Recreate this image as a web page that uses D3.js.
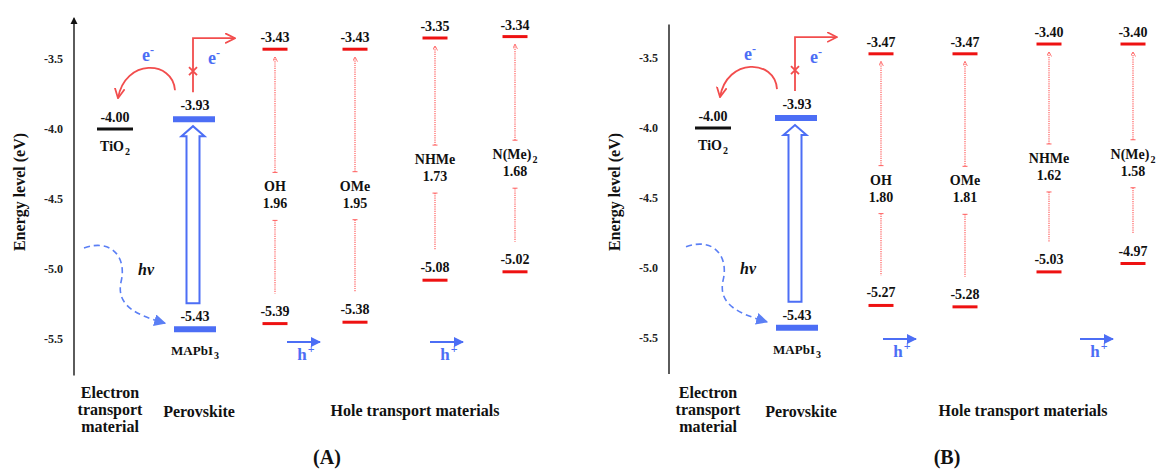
<!DOCTYPE html>
<html>
<head>
<meta charset="UTF-8" />
<style>
  body { margin: 0; background: #fff; }
  svg text { font-family: "Liberation Serif", "Times New Roman", serif; font-weight: bold; fill: #111; }
</style>
</head>
<body>
<svg width="1159" height="469"></svg>
<script src="https://d3js.org/d3.v7.min.js"></script>
<script>
    // energy levels (eV)
    const columns = ["ETM", "Perovskite", "OH", "OMe", "NHMe", "N(Me)2"];
    const htmNames = ["OH", "OMe", "NHMe", "N(Me)2"];
    const tio2Level = -4.00;
    const perovLumo = -3.93;
    const perovHomo = -5.43;
    const yTicks = [-3.5, -4.0, -4.5, -5.0, -5.5];

    const lumoA = [-3.43, -3.43, -3.35, -3.34];
    const homoA = [-5.39, -5.38, -5.08, -5.02];
    const gapA = [1.96, 1.95, 1.73, 1.68];

    const lumoB = [-3.47, -3.47, -3.40, -3.40];
    const homoB = [-5.27, -5.28, -5.03, -4.97];
    const gapB = [1.80, 1.81, 1.62, 1.58];

    const blue = "#4c6ef5",
        red = "#ee1111",
        arrowRed = "#f24d4d",
        dotRed = "#ff5e5e"

    const svg = d3.select("svg")
    const defs = svg.append("defs")

    function addMarker(id, d, color, w, h, filled) {
        defs.append("marker")
            .attr("id", id)
            .attr("viewBox", "0 -5 10 10")
            .attr("refX", 9)
            .attr("refY", 0)
            .attr("markerUnits", "userSpaceOnUse")
            .attr("markerWidth", w)
            .attr("markerHeight", h)
            .attr("orient", "auto")
            .append("path")
            .attr("d", d)
            .attr("fill", filled ? color : "none")
            .attr("stroke", color)
            .attr("stroke-width", filled ? 0 : 1.6)
    }
    addMarker("vRed", "M0,-4.5L9,0L0,4.5", arrowRed, 11, 11, false)
    addMarker("triBlue", "M0,-5L10,0L0,5Z", blue, 10, 10, true)
    addMarker("triDash", "M0,-5L10,0L0,5Z", "#5b7ff5", 12, 12, true)
    addMarker("tinyRed", "M0,-5L10,0L0,5", dotRed, 5, 5, false)

    const panels = [
        { tag: "(A)", lumo: lumoA, homo: homoA, gap: gapA, axisX: 74, xRange: [115, 515], yRange: [59, 339],
          arrowTop: true, hArrows: [["OH", 12], ["NHMe", -5]], hY: 342, tagX: 327, holeX: 415 },
        { tag: "(B)", lumo: lumoB, homo: homoB, gap: gapB, axisX: 669, xRange: [713, 1133], yRange: [58, 337.6],
          arrowTop: false, hArrows: [["OH", 2], ["N(Me)2", -53]], hY: 339, tagX: 947, holeX: 1023 }
    ]

    function withSub(sel, main, sub, size) {
        sel.append("tspan").text(main)
        if (sub) sel.append("tspan").attr("dy", 4).attr("dx", 1).attr("font-size", size).text(sub)
    }

    panels.forEach(p => {
        const g = svg.append("g")
        const x = d3.scalePoint().domain(columns).range(p.xRange)
        const y = d3.scaleLinear().domain([-3.5, -5.5]).range(p.yRange)
        const fmt = d => d.toFixed(2)

        // axis line
        g.append("line")
            .attr("x1", p.axisX).attr("x2", p.axisX)
            .attr("y1", p.arrowTop ? y(-3.21) : y(-3.26)).attr("y2", y(-5.76))
            .attr("stroke", "#333").attr("stroke-width", 1.6)
        if (p.arrowTop) {
            const t = y(-3.2)
            g.append("path")
                .attr("d", `M${p.axisX - 3.5},${t + 7}L${p.axisX},${t}L${p.axisX + 3.5},${t + 7}Z`)
                .attr("fill", "#111")
        }

        const axis = g.append("g")
            .attr("transform", `translate(${p.axisX},0)`)
            .call(d3.axisLeft(y).tickValues(yTicks).tickSize(0).tickPadding(11).tickFormat(d => d.toFixed(1)))
        axis.select(".domain").remove()
        axis.selectAll("text")
            .attr("font-size", 12)
            .style("fill", "#222")

        g.append("text")
            .attr("transform", `translate(${p.axisX - 49},192) rotate(-90)`)
            .attr("text-anchor", "middle")
            .attr("font-size", 16)
            .text("Energy level (eV)")

        const ex = x("ETM"), px = x("Perovskite")

        // TiO2
        g.append("line")
            .attr("x1", ex - 18).attr("x2", ex + 18)
            .attr("y1", y(tio2Level)).attr("y2", y(tio2Level))
            .attr("stroke", "#111").attr("stroke-width", 3)
        g.append("text").attr("x", ex).attr("y", y(tio2Level) - 7)
            .attr("text-anchor", "middle").attr("font-size", 14).text(fmt(tio2Level))
        withSub(g.append("text").attr("x", ex).attr("y", y(tio2Level) + 22)
            .attr("text-anchor", "middle").attr("font-size", 14), "TiO", "2", 10)

        // perovskite bands
        g.append("line")
            .attr("x1", px - 22).attr("x2", px + 20)
            .attr("y1", y(perovLumo)).attr("y2", y(perovLumo))
            .attr("stroke", blue).attr("stroke-width", 6)
        g.append("line")
            .attr("x1", px - 21).attr("x2", px + 21)
            .attr("y1", y(perovHomo)).attr("y2", y(perovHomo))
            .attr("stroke", blue).attr("stroke-width", 6)
        g.append("text").attr("x", px).attr("y", y(perovLumo) - 9)
            .attr("text-anchor", "middle").attr("font-size", 14).text(fmt(perovLumo))
        g.append("text").attr("x", px).attr("y", y(perovHomo) - 8)
            .attr("text-anchor", "middle").attr("font-size", 14).text(fmt(perovHomo))
        withSub(g.append("text").attr("x", px).attr("y", y(perovHomo) + 26)
            .attr("text-anchor", "middle").attr("font-size", 13), "MAPbI", "3", 10)

        // hollow excitation arrow
        const ax = px - 2, tip = y(perovLumo) + 7, wing = tip + 10, bot = y(perovHomo) - 26
        g.append("path")
            .attr("d", `M${ax - 6.5},${bot}L${ax - 6.5},${wing}L${ax - 11.5},${wing}L${ax},${tip}` +
                `L${ax + 11.5},${wing}L${ax + 6.5},${wing}L${ax + 6.5},${bot}Z`)
            .attr("fill", "#fff").attr("stroke", blue).attr("stroke-width", 2)

        // hv dashed arrow
        const sx = px - 111, sy = y(-4.85), mx = px - 74, my = sy + 34
        const tx = px - 30, ty = y(perovHomo) - 6
        g.append("path")
            .attr("d", `M${sx},${sy}C${sx + 28},${sy - 10} ${mx + 6},${sy + 10} ${mx},${my}` +
                `C${mx - 5},${my + 24} ${tx - 28},${ty - 8} ${tx},${ty}`)
            .attr("fill", "none").attr("stroke", "#5b7ff5").attr("stroke-width", 1.6)
            .attr("stroke-dasharray", "6,4").attr("marker-end", "url(#triDash)")
        g.append("text").attr("x", px - 49).attr("y", y(-5.0) + 6)
            .attr("text-anchor", "middle").attr("font-size", 16).attr("font-style", "italic").text("hv")

        // electron injection arc into TiO2
        const a0 = y(perovLumo) - 29
        g.append("path")
            .attr("d", `M${px - 20},${a0}C${px - 22},${a0 - 30} ${px - 70},${a0 - 32} ${px - 77},${a0 + 8}`)
            .attr("fill", "none").attr("stroke", arrowRed).attr("stroke-width", 1.8)
            .attr("marker-end", "url(#vRed)")
        const eL = g.append("text").attr("x", px - 47).attr("y", a0 - 29)
            .attr("text-anchor", "middle").attr("font-size", 18)
        eL.append("tspan").style("fill", blue).text("e")
        eL.append("tspan").style("fill", blue).attr("dy", -7).attr("font-size", 12).text("-")

        // blocked transfer to HTM LUMO
        const rx = px - 2, rb = y(perovLumo) - 27, rt = y(perovLumo) - 81, cx = y(perovLumo) - 48
        g.append("path")
            .attr("d", `M${rx},${rb}L${rx},${rt}L${px + 40},${rt}`)
            .attr("fill", "none").attr("stroke", arrowRed).attr("stroke-width", 1.8)
            .attr("marker-end", "url(#vRed)")
        g.append("path")
            .attr("d", `M${rx - 4},${cx - 4}L${rx + 4},${cx + 4}M${rx + 4},${cx - 4}L${rx - 4},${cx + 4}`)
            .attr("stroke", arrowRed).attr("stroke-width", 1.8)
        const eR = g.append("text").attr("x", px + 19).attr("y", a0 - 26)
            .attr("text-anchor", "middle").attr("font-size", 18)
        eR.append("tspan").style("fill", blue).text("e")
        eR.append("tspan").style("fill", blue).attr("dy", -7).attr("font-size", 12).text("-")

        // hole transport materials
        htmNames.forEach((name, i) => {
            const cxh = x(columns[i + 2])
            const yl = y(p.lumo[i]), yh = y(p.homo[i]), mid = (yl + yh) / 2
            ;[yl, yh].forEach(v => {
                g.append("line")
                    .attr("x1", cxh - 12.5).attr("x2", cxh + 12.5)
                    .attr("y1", v).attr("y2", v)
                    .attr("stroke", red).attr("stroke-width", 3)
            })
            g.append("text").attr("x", cxh).attr("y", yl - 7)
                .attr("text-anchor", "middle").attr("font-size", 14).text(fmt(p.lumo[i]))
            g.append("text").attr("x", cxh).attr("y", yh - 8)
                .attr("text-anchor", "middle").attr("font-size", 14).text(fmt(p.homo[i]))

            const m = name.match(/^(.*?)(\d)$/)
            withSub(g.append("text").attr("x", cxh).attr("y", mid + 5)
                .attr("text-anchor", "middle").attr("font-size", 14), m ? m[1] : name, m ? m[2] : null, 10)
            g.append("text").attr("x", cxh).attr("y", mid + 22)
                .attr("text-anchor", "middle").attr("font-size", 14).text(p.gap[i].toFixed(2))

            // dotted gap arrow, split around the labels
            g.append("line")
                .attr("x1", cxh).attr("x2", cxh)
                .attr("y1", mid - 14).attr("y2", yl + 8)
                .attr("stroke", dotRed).attr("stroke-width", 1.2).attr("stroke-dasharray", "1.2,1")
                .attr("marker-end", "url(#tinyRed)")
            g.append("line")
                .attr("x1", cxh).attr("x2", cxh)
                .attr("y1", mid + 34).attr("y2", yh - 30)
                .attr("stroke", dotRed).attr("stroke-width", 1.2).attr("stroke-dasharray", "1.2,1")
            ;[mid - 14, mid + 34].forEach(v => {
                g.append("line")
                    .attr("x1", cxh - 2.5).attr("x2", cxh + 2.5)
                    .attr("y1", v).attr("y2", v)
                    .attr("stroke", dotRed).attr("stroke-width", 1)
            })
        })

        // hole extraction arrows
        p.hArrows.forEach(([col, off]) => {
            const x0 = x(col) + off
            g.append("line")
                .attr("x1", x0).attr("x2", x0 + 33)
                .attr("y1", p.hY).attr("y2", p.hY)
                .attr("stroke", blue).attr("stroke-width", 2)
                .attr("marker-end", "url(#triBlue)")
            const h = g.append("text").attr("x", x0 + 19).attr("y", p.hY + 18)
                .attr("text-anchor", "middle").attr("font-size", 17)
            h.append("tspan").style("fill", blue).text("h")
            h.append("tspan").style("fill", blue).attr("dx", 1).attr("dy", -7).attr("font-size", 12).text("+")
        })

        // category labels
        ;["Electron", "transport", "material"].forEach((t, i) => {
            g.append("text").attr("x", ex - 5).attr("y", 398 + i * 17)
                .attr("text-anchor", "middle").attr("font-size", 16).text(t)
        })
        g.append("text").attr("x", px + 4).attr("y", 417)
            .attr("text-anchor", "middle").attr("font-size", 16).text("Perovskite")
        g.append("text").attr("x", p.holeX).attr("y", 416)
            .attr("text-anchor", "middle").attr("font-size", 16).text("Hole transport materials")
        g.append("text").attr("x", p.tagX).attr("y", 464)
            .attr("text-anchor", "middle").attr("font-size", 20).text(p.tag)
    })
</script>
</body>
</html>
